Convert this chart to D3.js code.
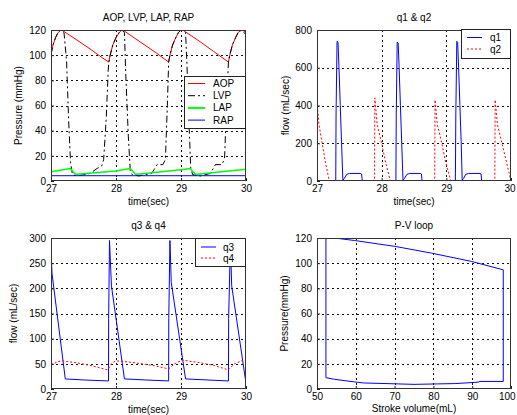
<!DOCTYPE html>
<html><head><meta charset="utf-8">
<script src="https://cdn.jsdelivr.net/npm/d3@7"></script>
<style>
body{margin:0;background:#fff}
svg text{font-family:"Liberation Sans",Arial,Helvetica,sans-serif;font-size:10px;fill:#000}
</style>
</head><body>
<svg id="c" width="517" height="415"></svg>
<script>
// ---------- DATA ----------
// Panel 1: pressures (time in sec, pressure in mmHg)
const aopT = [27.00,27.03,27.07,27.11,27.15,27.18,27.40,27.60,27.80,27.89,27.91,27.95,28.00,28.05,28.09,28.12,28.40,28.60,28.81,28.83,28.87,28.92,28.96,29.00,29.04,29.30,29.50,29.73,29.75,29.79,29.84,29.88,29.93,29.96,30.00];
const aopP = [100.5,108,114,118,120,119.5,112,105,97.5,94.5,100,108,114,118,120,119.5,109.5,102.5,94.5,100,108,114,118,120,119.5,110.5,103,94.5,100,108,114,118,120,119.5,118];
const lvpT = [27.00,27.03,27.07,27.11,27.15,27.20,27.24,27.27,27.30,27.33,27.40,27.60,27.71,27.78,27.81,27.85,27.88,27.89,27.91,27.95,28.00,28.05,28.09,28.13,28.15,28.19,28.22,28.25,28.35,28.55,28.63,28.72,28.76,28.79,28.81,28.83,28.87,28.92,28.96,29.00,29.07,29.09,29.12,29.15,29.18,29.30,29.45,29.53,29.63,29.67,29.70,29.73,29.75,29.79,29.84,29.88,29.93,29.96,30.00];
const lvpP = [100.5,108,114,118,120,118,95,50,15,5,4,6,10,12,17,50,88,94.5,100,108,114,118,120,118,85,35,8,5,4,6,13,13,17,60,94.5,100,108,114,118,120,118,95,50,10,5,4,6,13,13,18,60,94.5,100,108,114,118,120,118,117];
const lapT = [27.00,27.30,27.37,27.40,28.00,28.22,28.30,28.33,29.00,29.14,29.22,29.25,30.00];
const lapP = [7.4,10,5.6,5.4,7.9,10,5.4,5.4,9,10,5.4,5.4,9.3];
const rapT = [27.00,30.00];
const rapP = [4.2,4.2];

// Panel 2: q1 & q2 (flow mL/sec)
const q1T = [27.00,27.29,27.295,27.31,27.325,27.34,27.36,27.38,27.40,27.42,27.46,27.50,27.67,27.69,27.70,28.22,28.226,28.24,28.255,28.27,28.29,28.31,28.33,28.35,28.39,28.43,28.60,28.615,28.625,29.14,29.147,29.162,29.175,29.19,29.21,29.23,29.245,29.265,29.30,29.34,29.52,29.537,29.547,30.00];
const q1V = [0,0,360,740,735,600,400,200,5,12,35,40,40,37,0,0,360,735,730,600,400,200,5,12,35,40,40,37,0,0,360,740,735,600,400,200,5,12,35,40,40,37,0,0];
const q2T = [27.00,27.03,27.08,27.13,27.19,27.89,27.895,27.93,28.00,28.06,28.135,28.82,28.825,28.86,28.93,28.99,29.07,29.75,29.755,29.79,29.86,29.93,30.00];
const q2V = [420,300,200,100,0,0,440,300,200,100,0,0,430,300,200,100,0,0,430,300,200,100,0];

// Panel 3: q3 & q4 (flow mL/sec)
const q3T = [27.00,27.015,27.22,27.50,27.885,27.887,27.90,27.93,28.13,28.45,28.81,28.812,28.83,28.85,29.07,29.40,29.73,29.733,29.76,29.78,29.99,30.00];
const q3V = [280,230,20,18,16,140,295,205,20,18,16,140,295,212,20,18,16,140,290,205,20,20];
const q4T = [27.00,27.10,27.17,27.40,27.60,27.87,27.93,27.99,28.06,28.30,28.60,28.81,28.90,29.02,29.30,29.50,29.73,29.82,29.94,30.00];
const q4V = [48,54,56,52,47,38,50,55.7,55.5,52,46,40,50,57.5,52,47,38,50,56.4,53];

// Panel 4: P-V loop
const pvV = [52.3,52.3,54.5,59.7,70,79.5,89.8,98,98,92,91.5,85.5,75,62,59.7,54.5,52.3];
const pvP = [9,119.5,120,118,113.4,108,101.4,94.7,6,6,5.4,4.3,3.7,4.8,5.6,7.7,9];

// tick labels
const timeTicks = [27,28,29,30];
const pTicks = [0,20,40,60,80,100,120];
const q12Ticks = [0,200,400,600,800];
const q34Ticks = [0,50,100,150,200,250,300];
const volTicks = [50,60,70,80,90,100];

// ---------- DRAW ----------
const svg = d3.select("#c");
const zip = (a,b) => a.map((v,i)=>[v,b[i]]);

function panel(o){
  const x = d3.scaleLinear().domain(o.xd).range([o.x0,o.x1]);
  const y = d3.scaleLinear().domain(o.yd).range([o.y1,o.y0]);
  const g = svg.append("g");
  const cid = "clip"+o.id;
  svg.append("defs").append("clipPath").attr("id",cid).append("rect")
    .attr("x",o.x0).attr("y",o.y0).attr("width",o.x1-o.x0).attr("height",o.y1-o.y0);
  g.append("rect").attr("x",o.x0).attr("y",o.y0).attr("width",o.x1-o.x0).attr("height",o.y1-o.y0).attr("fill","#fff");
  // grid
  const grid = g.append("g").attr("stroke","#111").attr("stroke-width",1).attr("stroke-dasharray","2,3").attr("shape-rendering","crispEdges");
  o.xt.slice(1,-1).forEach(v=>grid.append("line").attr("x1",Math.round(x(v))+0.5).attr("x2",Math.round(x(v))+0.5).attr("y1",o.y0).attr("y2",o.y1));
  o.yt.slice(1,-1).forEach(v=>grid.append("line").attr("y1",Math.round(y(v))+0.5).attr("y2",Math.round(y(v))+0.5).attr("x1",o.x0).attr("x2",o.x1));
  // series
  const lg = g.append("g").attr("clip-path","url(#"+cid+")");
  const line = d3.line().x(d=>x(d[0])).y(d=>y(d[1]));
  o.series.forEach(s=>{
    lg.append("path").attr("d",line(zip(s.t,s.v))).attr("fill","none")
      .attr("stroke",s.c).attr("stroke-width",s.w||1).attr("stroke-dasharray",s.dash||null)
      .attr("stroke-linejoin","round");
  });
  // axes
  const ax = g.append("g").attr("transform",`translate(0,${o.y1})`)
    .call(d3.axisBottom(x).tickValues(o.xt).tickFormat(d3.format("d")).tickSize(-3).tickPadding(4));
  const ay = g.append("g").attr("transform",`translate(${o.x0},0)`)
    .call(d3.axisLeft(y).tickValues(o.yt).tickFormat(d3.format("d")).tickSize(-3).tickPadding(5));
  [ax,ay].forEach(a=>{a.select(".domain").remove(); a.selectAll("line").attr("stroke","#222"); a.selectAll("text").attr("font-size",11).attr("font-family",null);});
  // keep the last x tick label inside the window
  ax.selectAll(".tick text").each(function(){
    const bb = this.getBBox();
    const tr = this.parentNode.getAttribute("transform");
    const tx = +tr.match(/translate\(([-\d.]+)/)[1];
    const over = tx + bb.x + bb.width - 516;
    if(over > 0) d3.select(this).attr("x", -over);
  });
  g.append("rect").attr("x",o.x0+0.5).attr("y",o.y0+0.5).attr("width",o.x1-o.x0-1).attr("height",o.y1-o.y0-1)
    .attr("fill","none").attr("stroke","#333").attr("shape-rendering","crispEdges");
  // labels
  g.append("text").attr("x",(o.x0+o.x1)/2).attr("y",o.titleY).attr("text-anchor","middle").text(o.title);
  g.append("text").attr("x",(o.x0+o.x1)/2).attr("y",o.xlY).attr("text-anchor","middle").text(o.xl);
  g.append("text").attr("transform",`translate(${o.ylX},${(o.y0+o.y1)/2}) rotate(-90)`).attr("text-anchor","middle").text(o.yl);
  // legend
  if(o.legend){
    const L = o.legend;
    const lgd = g.append("g");
    lgd.append("rect").attr("x",L.x+0.5).attr("y",L.y+0.5).attr("width",L.w).attr("height",L.h)
      .attr("fill","#fff").attr("stroke","#222").attr("shape-rendering","crispEdges");
    L.items.forEach((it,i)=>{
      const yy = L.y + L.first + i*L.step;
      lgd.append("line").attr("x1",L.x+L.l1).attr("x2",L.x+L.l2).attr("y1",yy).attr("y2",yy)
        .attr("stroke",it.c).attr("stroke-width",it.w||1).attr("stroke-dasharray",it.dash||null);
      lgd.append("text").attr("x",L.x+L.tx).attr("y",yy+3.5).text(it.n);
    });
  }
}

const red="#ff0000", blue="#0000ff", green="#00ff00";

panel({id:1,x0:51,x1:246,y0:30,y1:181,xd:[27,30],yd:[0,120],xt:timeTicks,yt:pTicks,
  title:"AOP, LVP, LAP, RAP",titleY:21,xl:"time(sec)",xlY:205,yl:"Pressure (mmHg)",ylX:22,
  series:[
    {t:aopT,v:aopP,c:red},
    {t:lvpT,v:lvpP,c:"#000",dash:"7,3,2,3"},
    {t:lapT,v:lapP,c:green,w:1.5},
    {t:rapT,v:rapP,c:blue}
  ],
  legend:{x:184,y:76,w:61,h:52,first:7.5,step:12.2,l1:4,l2:21,tx:29,
    items:[{n:"AOP",c:red},{n:"LVP",c:"#000",dash:"7,3,2,3"},{n:"LAP",c:green,w:2},{n:"RAP",c:blue}]}
});

panel({id:2,x0:317,x1:511,y0:30,y1:181,xd:[27,30],yd:[0,800],xt:timeTicks,yt:q12Ticks,
  title:"q1 & q2",titleY:21,xl:"time(sec)",xlY:205,yl:"flow (mL/sec)",ylX:289,
  series:[
    {t:q1T,v:q1V,c:blue},
    {t:q2T,v:q2V,c:red,dash:"2,2"}
  ],
  legend:{x:461,y:29,w:49,h:29,first:8.5,step:11.5,l1:6,l2:21,tx:29,
    items:[{n:"q1",c:blue},{n:"q2",c:red,dash:"2,2"}]}
});

panel({id:3,x0:51,x1:246,y0:238,y1:389,xd:[27,30],yd:[0,300],xt:timeTicks,yt:q34Ticks,
  title:"q3 & q4",titleY:229,xl:"time(sec)",xlY:413,yl:"flow (mL/sec)",ylX:17,
  series:[
    {t:q3T,v:q3V,c:blue},
    {t:q4T,v:q4V,c:red,dash:"2,2"}
  ],
  legend:{x:195,y:238,w:50,h:28,first:9,step:11,l1:6,l2:21,tx:28,
    items:[{n:"q3",c:blue},{n:"q4",c:red,dash:"2,2"}]}
});

panel({id:4,x0:317,x1:511,y0:238,y1:389,xd:[50,100],yd:[0,120],xt:volTicks,yt:pTicks,
  title:"P-V loop",titleY:229,xl:"Stroke volume(mL)",xlY:412,yl:"Pressure(mmHg)",ylX:288,
  series:[
    {t:pvV,v:pvP,c:blue}
  ]
});
</script>
</body></html>
